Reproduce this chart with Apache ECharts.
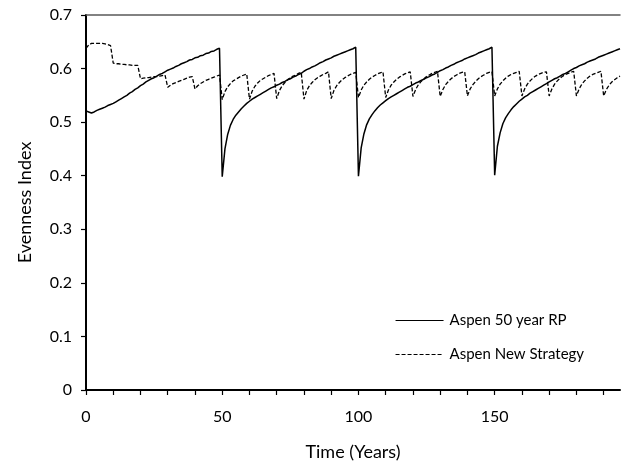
<!DOCTYPE html>
<html>
<head>
<meta charset="utf-8">
<script src="https://cdn.jsdelivr.net/npm/echarts@6/dist/echarts.min.js"></script>
<style>
  html, body { margin: 0; padding: 0; background: #fff; }
  #chart { width: 621px; height: 466px; }
</style>
</head>
<body>
<div id="chart"></div>
<script>
// Evenness index per year (index = year, starting at 0)
const rp50Values = [
  0.521, 0.519, 0.517, 0.519, 0.522, 0.524, 0.526, 0.528, 0.531, 0.533,
  0.535, 0.538, 0.541, 0.544, 0.547, 0.550, 0.554, 0.557, 0.561, 0.564,
  0.568, 0.571, 0.575, 0.578, 0.581, 0.583, 0.586, 0.589, 0.591, 0.594,
  0.597, 0.599, 0.601, 0.604, 0.606, 0.609, 0.611, 0.613, 0.616, 0.617,
  0.620, 0.621, 0.624, 0.625, 0.628, 0.629, 0.632, 0.633, 0.636, 0.638,
  0.398, 0.450, 0.477, 0.494, 0.505, 0.513, 0.519, 0.525, 0.530, 0.535,
  0.539, 0.543, 0.546, 0.549, 0.552, 0.555, 0.558, 0.561, 0.564, 0.566,
  0.569, 0.571, 0.574, 0.576, 0.579, 0.581, 0.584, 0.586, 0.589, 0.591,
  0.595, 0.598, 0.600, 0.603, 0.605, 0.608, 0.611, 0.613, 0.616, 0.618,
  0.620, 0.623, 0.625, 0.627, 0.629, 0.631, 0.633, 0.635, 0.637, 0.640,
  0.399, 0.452, 0.478, 0.495, 0.506, 0.514, 0.521, 0.527, 0.532, 0.536,
  0.540, 0.544, 0.547, 0.550, 0.553, 0.556, 0.559, 0.562, 0.565, 0.567,
  0.570, 0.573, 0.575, 0.578, 0.580, 0.583, 0.585, 0.588, 0.590, 0.593,
  0.596, 0.598, 0.601, 0.603, 0.606, 0.608, 0.611, 0.613, 0.615, 0.618,
  0.620, 0.622, 0.624, 0.626, 0.629, 0.631, 0.633, 0.635, 0.637, 0.640,
  0.401, 0.455, 0.480, 0.497, 0.508, 0.516, 0.523, 0.529, 0.534, 0.539,
  0.543, 0.547, 0.550, 0.554, 0.557, 0.560, 0.563, 0.566, 0.569, 0.572,
  0.575, 0.578, 0.581, 0.583, 0.586, 0.589, 0.591, 0.594, 0.597, 0.600,
  0.602, 0.605, 0.607, 0.609, 0.612, 0.614, 0.616, 0.618, 0.621, 0.623,
  0.625, 0.627, 0.629, 0.631, 0.633, 0.635, 0.637
];

const newStrategyValues = [
  0.638, 0.644, 0.647, 0.647, 0.647, 0.647, 0.647, 0.646, 0.645, 0.643,
  0.610, 0.609, 0.609, 0.608, 0.608, 0.607, 0.607, 0.606, 0.606, 0.606,
  0.581, 0.582, 0.583, 0.583, 0.584, 0.585, 0.585, 0.586, 0.587, 0.588,
  0.565, 0.569, 0.572, 0.574, 0.576, 0.578, 0.580, 0.582, 0.584, 0.585,
  0.562, 0.568, 0.572, 0.575, 0.578, 0.580, 0.582, 0.584, 0.586, 0.588,
  0.542, 0.557, 0.566, 0.572, 0.577, 0.580, 0.583, 0.586, 0.588, 0.590,
  0.543, 0.558, 0.567, 0.573, 0.578, 0.581, 0.584, 0.587, 0.589, 0.591,
  0.544, 0.559, 0.568, 0.574, 0.579, 0.583, 0.586, 0.588, 0.591, 0.593,
  0.543, 0.559, 0.568, 0.574, 0.579, 0.583, 0.586, 0.589, 0.591, 0.594,
  0.544, 0.559, 0.568, 0.574, 0.579, 0.583, 0.586, 0.589, 0.591, 0.593,
  0.546, 0.560, 0.569, 0.575, 0.580, 0.584, 0.587, 0.590, 0.592, 0.594,
  0.546, 0.560, 0.569, 0.575, 0.580, 0.584, 0.587, 0.590, 0.592, 0.594,
  0.548, 0.561, 0.570, 0.576, 0.581, 0.585, 0.588, 0.591, 0.593, 0.595,
  0.548, 0.561, 0.570, 0.576, 0.581, 0.585, 0.588, 0.591, 0.593, 0.594,
  0.549, 0.562, 0.570, 0.576, 0.581, 0.585, 0.588, 0.591, 0.593, 0.594,
  0.549, 0.562, 0.571, 0.577, 0.582, 0.586, 0.589, 0.591, 0.593, 0.595,
  0.549, 0.562, 0.571, 0.577, 0.582, 0.586, 0.589, 0.591, 0.593, 0.594,
  0.549, 0.562, 0.571, 0.577, 0.582, 0.586, 0.589, 0.591, 0.593, 0.595,
  0.549, 0.562, 0.571, 0.577, 0.582, 0.586, 0.589, 0.591, 0.593, 0.595,
  0.549, 0.561, 0.569, 0.575, 0.579, 0.583, 0.586
];

const seriesNames = ['Aspen 50 year RP', 'Aspen New Strategy'];
const xTickValues = [0, 10, 20, 30, 40, 50, 60, 70, 80, 90, 100, 110, 120, 130, 140, 150, 160, 170, 180, 190];
const xLabelValues = [0, 50, 100, 150];
const yTickLabels = ['0', '0.1', '0.2', '0.3', '0.4', '0.5', '0.6', '0.7'];

const FONT = 'Lato, "Open Sans", sans-serif';

function toPairs(values) {
  return values.map((v, year) => [year, v]);
}

const chart = echarts.init(document.getElementById('chart'), null, { renderer: 'canvas' });

chart.setOption({
  animation: false,
  backgroundColor: '#ffffff',
  textStyle: { fontFamily: FONT, color: '#000' },
  grid: { left: 86, right: 1, top: 15, bottom: 76, containLabel: false },
  legend: {
    orient: 'vertical',
    left: 390,
    top: 308,
    itemWidth: 48,
    itemHeight: 14,
    itemGap: 19,
    // line-only keys: hide the marker drawn on top of the line sample
    itemStyle: { color: 'transparent', borderWidth: 0, opacity: 0 },
    lineStyle: { width: 1.1 },
    textStyle: { fontFamily: FONT, fontSize: 15, color: '#000', padding: [0, 0, 0, 1] },
    data: seriesNames
  },
  xAxis: [
    {
      type: 'value',
      min: 0,
      max: 196,
      interval: 10,
      name: 'Time (Years)',
      nameLocation: 'middle',
      nameGap: 53,
      nameTextStyle: { fontFamily: FONT, fontSize: 18, color: '#000' },
      axisLine: { show: true, onZero: false, lineStyle: { color: '#000', width: 2 } },
      axisTick: { show: true, length: 5, customValues: xTickValues, lineStyle: { color: '#000', width: 1.2 } },
      axisLabel: { customValues: xLabelValues, margin: 19, fontFamily: FONT, fontSize: 16, color: '#000' },
      splitLine: { show: false }
    },
    {
      type: 'value',
      position: 'top',
      min: 0,
      max: 196,
      axisLine: { show: true, onZero: false, lineStyle: { color: '#595959', width: 1.5 } },
      axisTick: { show: false },
      axisLabel: { show: false },
      splitLine: { show: false }
    }
  ],
  yAxis: {
    type: 'value',
    min: 0,
    max: 0.7,
    interval: 0.1,
    name: 'Evenness Index',
    nameLocation: 'middle',
    nameGap: 52,
    nameTextStyle: { fontFamily: FONT, fontSize: 18, color: '#000' },
    axisLine: { show: true, onZero: false, lineStyle: { color: '#000', width: 2 } },
    axisTick: { show: true, length: 5, lineStyle: { color: '#000', width: 1.2 } },
    axisLabel: {
      margin: 14,
      fontFamily: FONT,
      fontSize: 16,
      color: '#000',
      formatter: (v) => yTickLabels[Math.round(v * 10)]
    },
    splitLine: { show: false }
  },
  series: [
    {
      name: seriesNames[0],
      type: 'line',
      xAxisIndex: 0,
      data: toPairs(rp50Values),
      symbol: 'none',
      lineStyle: { color: '#000', width: 1.5, type: 'solid' },
      itemStyle: { color: '#000' }
    },
    {
      name: seriesNames[1],
      type: 'line',
      xAxisIndex: 0,
      data: toPairs(newStrategyValues),
      symbol: 'none',
      lineStyle: { color: '#000', width: 1.3, type: [4, 2] },
      itemStyle: { color: '#000' }
    }
  ]
});
</script>
</body>
</html>
